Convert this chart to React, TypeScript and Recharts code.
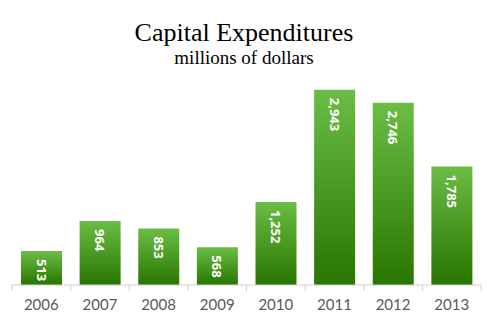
import React from "react";
import { BarChart, Bar, XAxis, YAxis, LabelList } from "recharts";

const years = ["2006", "2007", "2008", "2009", "2010", "2011", "2012", "2013"];
const capex = [513, 964, 853, 568, 1252, 2943, 2746, 1785];
const title = "Capital Expenditures";
const subtitle = "millions of dollars";

const data = years.map((y, i) => ({ year: y, value: capex[i] }));

const W = 487;
const H = 329;
const M = { top: 86, right: 6, left: 12, bottom: 0 };
const band = (W - M.left - M.right) / years.length;

const Tick = (props: any) => {
  const { x, y, payload, index } = props;
  const left = x - band / 2;
  return (
    <g>
      <line x1={left} y1={y - 8} x2={left} y2={y - 2} stroke="#d0d0d0" />
      {index === years.length - 1 && (
        <line x1={left + band} y1={y - 8} x2={left + band} y2={y - 2} stroke="#d0d0d0" />
      )}
      <text x={x} y={y + 17} textAnchor="middle" fill="#595959" fontSize={15} fontFamily="Lato, 'Open Sans', sans-serif">
        {payload.value}
      </text>
    </g>
  );
};

const InLabel = (props: any) => {
  const { x, y, width, value } = props;
  const cx = x + width / 2;
  const ty = y + 8;
  return (
    <text
      x={cx}
      y={ty}
      transform={`rotate(90 ${cx} ${ty})`}
      textAnchor="start"
      dominantBaseline="central"
      fill="#ffffff"
      fontSize={13}
      fontWeight="bold"
      fontFamily="'Open Sans', 'DejaVu Sans', sans-serif"
    >
      {value.toLocaleString("en-US")}
    </text>
  );
};

export default function App() {
  return (
    <div style={{ position: "absolute", left: 0, top: 0, width: W, height: H, background: "#fff" }}>
      <svg width={W} height={H} style={{ position: "absolute", left: 0, top: 0 }}>
        <text x={244} y={41} textAnchor="middle" fontFamily="'Liberation Serif', serif" fontSize={26} fill="#000">
          {title}
        </text>
        <text x={244} y={64} textAnchor="middle" fontFamily="'Liberation Serif', serif" fontSize={19} fill="#000">
          {subtitle}
        </text>
      </svg>
      <div style={{ position: "absolute", left: 0, top: 0 }}>
        <BarChart width={W} height={H} data={data} margin={M}>
          <defs>
            <linearGradient id="greenGrad" x1="0" y1="0" x2="0" y2="1">
              <stop offset="0%" stopColor="#6cbd45" />
              <stop offset="100%" stopColor="#267600" />
            </linearGradient>
          </defs>
          <XAxis
            dataKey="year"
            height={44}
            axisLine={{ stroke: "#d0d0d0" }}
            tickLine={false}
            tick={<Tick />}
            interval={0}
          />
          <YAxis hide domain={[0, 3000]} />
          <Bar dataKey="value" fill="url(#greenGrad)" barSize={41} isAnimationActive={false}>
            <LabelList dataKey="value" content={<InLabel />} />
          </Bar>
        </BarChart>
      </div>
    </div>
  );
}
